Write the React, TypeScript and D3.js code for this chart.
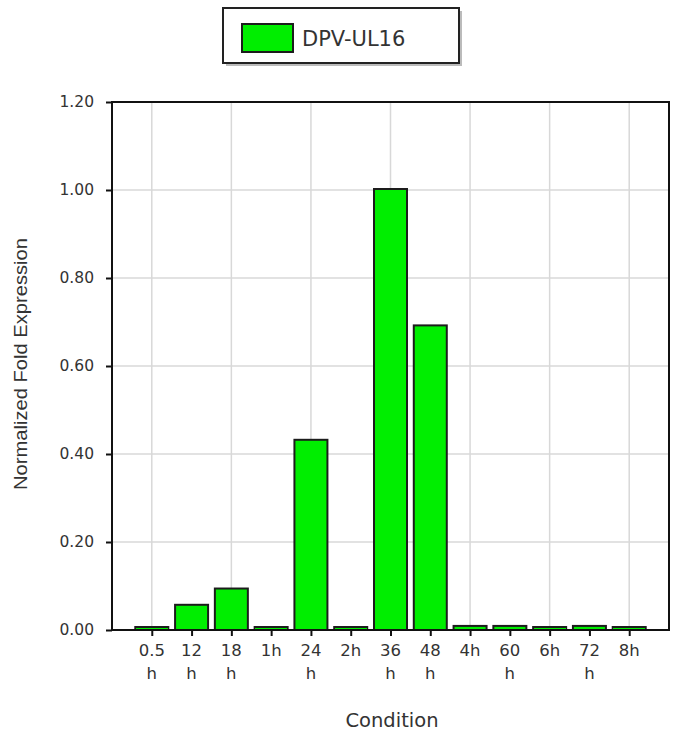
import * as d3 from 'd3';
import { useEffect, useRef } from 'react';

// data
const conditions = ['0.5 h', '12 h', '18 h', '1h', '24 h', '2h', '36 h', '48 h', '4h', '60 h', '6h', '72 h', '8h'];
const foldValues = [0.002, 0.055, 0.092, 0.002, 0.43, 0.002, 1.0, 0.69, 0.007, 0.007, 0.004, 0.007, 0.002];
const yTicks = [0, 0.2, 0.4, 0.6, 0.8, 1.0, 1.2];
const seriesName = 'DPV-UL16';

export default function App() {
  const ref = useRef<SVGSVGElement | null>(null);

  useEffect(() => {
    const svg = d3.select(ref.current);
    svg.selectAll('*').remove();

    const left = 112, right = 669, top = 102, bottom = 630;

    const x = d3.scalePoint<string>()
      .domain(conditions)
      .range([left, right])
      .padding(1);

    const y = d3.scaleLinear()
      .domain([0, 1.2])
      .range([bottom, top]);

    const barW = 33;

    // gridlines
    svg.append('g')
      .selectAll('line')
      .data(yTicks.slice(1))
      .enter()
      .append('line')
      .attr('x1', left).attr('x2', right)
      .attr('y1', d => y(d)).attr('y2', d => y(d))
      .attr('stroke', '#d8d8d8').attr('stroke-width', 1.5);

    svg.append('g')
      .selectAll('line')
      .data(conditions.filter((_, i) => i % 2 === 0))
      .enter()
      .append('line')
      .attr('x1', d => x(d)!).attr('x2', d => x(d)!)
      .attr('y1', top).attr('y2', bottom)
      .attr('stroke', '#d8d8d8').attr('stroke-width', 1.5);

    // bars
    svg.append('g')
      .selectAll('rect')
      .data(conditions)
      .enter()
      .append('rect')
      .attr('x', d => x(d)! - barW / 2)
      .attr('width', barW)
      .attr('y', (d, i) => Math.min(y(foldValues[i]) - 1, bottom - 3))
      .attr('height', (d, i) => Math.max(bottom - y(foldValues[i]) + 1, 3))
      .attr('fill', '#00ee00')
      .attr('stroke', '#1c1c1c')
      .attr('stroke-width', 2);

    // frame
    svg.append('rect')
      .attr('x', left).attr('y', top)
      .attr('width', right - left).attr('height', bottom - top)
      .attr('fill', 'none').attr('stroke', '#111').attr('stroke-width', 2);

    // y axis
    const yAxis = svg.append('g')
      .attr('transform', `translate(${left},0)`)
      .call(d3.axisLeft(y).tickValues(yTicks).tickFormat(d3.format('.2f')).tickSize(6).tickPadding(12));
    yAxis.select('.domain').remove();
    yAxis.selectAll('line').attr('stroke', '#111').attr('stroke-width', 2);
    yAxis.selectAll('text')
      .attr('font-family', 'DejaVu Sans')
      .attr('font-size', 15.5)
      .attr('fill', '#333');

    // x axis
    const xAxis = svg.append('g')
      .attr('transform', `translate(0,${bottom})`)
      .call(d3.axisBottom(x).tickSize(6).tickFormat(() => ''));
    xAxis.select('.domain').remove();
    xAxis.selectAll('line').attr('stroke', '#111').attr('stroke-width', 2);

    const labels = svg.append('g')
      .selectAll('text')
      .data(conditions)
      .enter()
      .append('text')
      .attr('x', d => x(d)!)
      .attr('y', bottom + 26)
      .attr('text-anchor', 'middle')
      .attr('font-family', 'DejaVu Sans')
      .attr('font-size', 16.5)
      .attr('fill', '#333');
    labels.each(function (d) {
      const parts = d.split(' ');
      parts.forEach((p, i) => {
        d3.select(this).append('tspan')
          .attr('x', x(d)!)
          .attr('dy', i === 0 ? 0 : 23)
          .text(p);
      });
    });

    // axis titles
    svg.append('text')
      .attr('x', 392).attr('y', 727)
      .attr('text-anchor', 'middle')
      .attr('font-family', 'DejaVu Sans')
      .attr('font-size', 19.5)
      .attr('fill', '#333')
      .text('Condition');

    svg.append('text')
      .attr('transform', 'translate(27,364) rotate(-90)')
      .attr('text-anchor', 'middle')
      .attr('font-family', 'Liberation Sans')
      .attr('font-size', 18)
      .attr('textLength', 252)
      .attr('lengthAdjust', 'spacingAndGlyphs')
      .attr('fill', '#333')
      .text('Normalized Fold Expression');

    // legend
    const lg = svg.append('g');
    lg.append('rect')
      .attr('x', 226).attr('y', 11).attr('width', 236).attr('height', 55)
      .attr('fill', '#bbb');
    lg.append('rect')
      .attr('x', 223).attr('y', 8).attr('width', 236).attr('height', 55)
      .attr('fill', '#fff').attr('stroke', '#222').attr('stroke-width', 2);
    lg.append('rect')
      .attr('x', 242).attr('y', 24).attr('width', 51).attr('height', 28)
      .attr('fill', '#00ee00').attr('stroke', '#1c1c1c').attr('stroke-width', 2);
    lg.append('text')
      .attr('x', 302).attr('y', 46)
      .attr('font-family', 'DejaVu Sans')
      .attr('font-size', 21)
      .attr('fill', '#333')
      .text(seriesName);
  }, []);

  return (
    <svg ref={ref} width={685} height={733}
      style={{ position: 'absolute', left: 0, top: 0, background: '#fff' }} />
  );
}
